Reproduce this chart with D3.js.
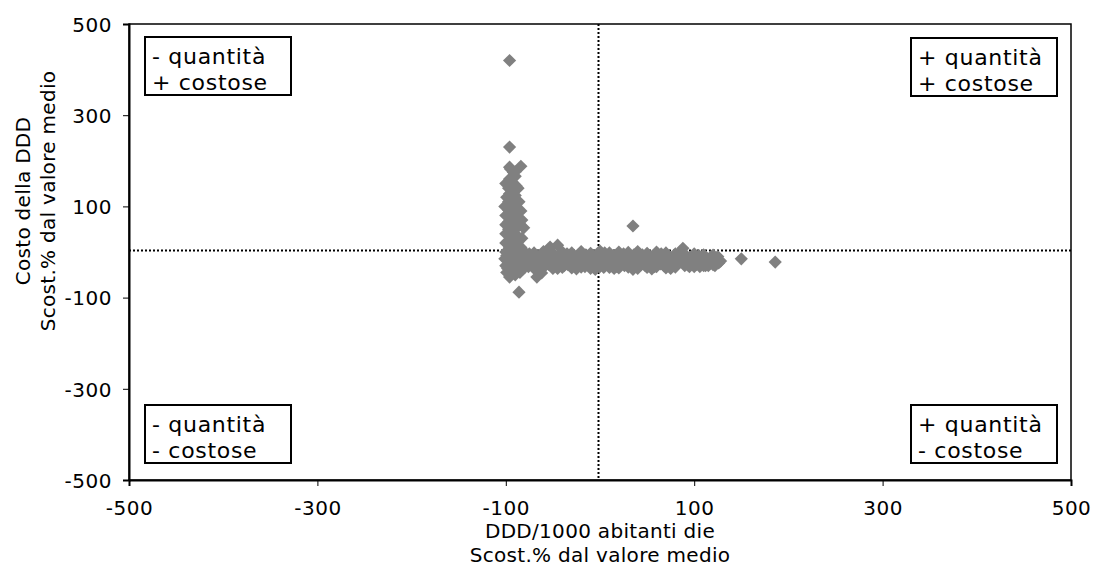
<!DOCTYPE html>
<html><head><meta charset="utf-8">
<script src="https://cdn.jsdelivr.net/npm/d3@7"></script>
<style>
body{margin:0;background:#fff;}
svg text{font-family:"DejaVu Sans",Verdana,sans-serif;fill:#000;}
</style></head>
<body><svg id="c" width="1096" height="574"></svg>
<script>
// ---- data ----
const xTicks = [-500, -300, -100, 100, 300, 500];
const yTicks = [-500, -300, -100, 100, 300, 500];
const xTitle = ["DDD/1000 abitanti die", "Scost.% dal valore medio"];
const yTitle = ["Costo della DDD", "Scost.% dal valore medio"];
const quadrantLabels = [["- quantità", "+ costose"], ["+ quantità", "+ costose"], ["- quantità", "- costose"], ["+ quantità", "- costose"]];
const refX = 0, refY = 0;
// x: DDD/1000 ab. die scost.%   y: costo DDD scost.%
const dddX = [
 -96,-96,-96,-84,-90,-95,-92,-90,-96,-94,-89,-97,-92,-96,-90,-94,-97,-91,-95,-89,-97,-93,-96,-90,-94,-97,-91,-95,-88,-97,-93,-90,-96,-92,-86,-81,-97,-94,-90,-96,-92,-98,-88,-95,-91,-97,-93,-89,-96,-92,-98,-94,-96,-88,-90,-98,-99,-93,-87,-95,
 -100,-84,-100,-83,-100,-84,-100,-85,-99,-86,-100,-87,-83,-100,-84,-100,-85,-99,-85,-101,-101,-84,
 -86,-67,-62,-96,-45,-53,35,88,150,186,
 -84,-82,-80,-78,-76,-74,-72,-70,-68,-66,-64,-62,-60,-58,-56,-54,-52,-50,-48,-46,-44,-42,-40,-38,-36,-34,-32,-30,-28,-26,-24,-22,-20,-18,-16,-14,-12,-10,-8,-6,-4,-2,0,2,4,6,8,10,12,14,16,18,20,22,24,26,28,30,32,34,36,38,40,42,44,46,48,50,52,54,56,58,60,62,64,66,68,70,72,74,76,78,80,82,84,86,90,92,94,96,98,100,102,104,106,108,110,112,114,116,118,120,122,124,126,128,
 -80,-70,-60,-50,-40,-30,-20,-10,0,10,20,30,40,50,60,70,80,90,100,110,120,-75,-55,-35,-15,5,25,45,65,85,105,125,
 -80,-70,-60,-50,-40,-30,-20,-10,0,10,20,30,40,50,60,70,80,90,100,110,120,-65,-45,-25,-5,15,35,55,75,95,115,
 -77,-63,-47,-33,-17,-3,13,27,43,57,73,87,103,117
];
const costoY = [
 420,230,186,188,176,182,175,166,160,150,145,140,135,128,124,118,110,105,100,96,92,88,82,78,72,66,62,58,54,50,46,40,36,30,26,53,22,18,14,10,6,2,-2,-6,-10,-14,-18,-22,-26,-30,-36,-42,-48,-40,-50,-20,-8,-34,-28,-4,
 80,90,40,30,0,-10,-30,60,120,110,150,140,70,60,10,20,-30,-45,-45,-15,100,-25,
 -88,-55,-46,-55,15,11,57,8,-15,-22,
 -20,-30,-10,-24,-32,-18,-28,-8,-22,-30,-16,-26,-34,-12,-24,-28,-6,-20,-30,-14,-26,-4,-22,-30,-12,-28,-18,-32,-10,-24,-30,-16,-6,-26,-32,-18,-28,-10,-22,-30,-14,-26,-4,-20,-34,-12,-28,-18,-30,-8,-24,-32,-14,-26,-20,-30,-10,-24,-16,-28,-6,-22,-32,-14,-26,-18,-30,-10,-24,-28,-14,-32,-20,-8,-26,-16,-30,-22,-12,-28,-18,-30,-10,-24,-20,-14,-26,-18,-30,-12,-22,-16,-28,-20,-32,-14,-24,-30,-18,-26,-10,-22,-30,-16,-24,-20,
 -34,-36,-32,-36,-34,-35,-33,-36,-32,-34,-35,-33,-36,-34,-32,-35,-33,-30,-32,-30,-28,-4,-6,-4,-6,-2,-4,-6,-4,-6,-8,-10,
 0,-2,1,-3,0,-2,1,-3,2,-2,0,-1,1,-3,0,-2,-4,-5,-4,-6,-7,-38,-36,-37,-38,-36,-38,-37,-36,-32,-30,
 -14,-20,-12,-18,-22,-16,-20,-12,-18,-22,-14,-18,-22,-14
];

// ---- layout ----
const m = {left: 129, right: 1071, top: 24, bottom: 480};
const svg = d3.select("#c");
const x = d3.scaleLinear().domain([-500, 500]).range([m.left, m.right]);
const y = d3.scaleLinear().domain([-500, 500]).range([m.bottom, m.top]);

// plot border
svg.append("rect").attr("x", m.left).attr("y", m.top)
  .attr("width", m.right - m.left).attr("height", m.bottom - m.top)
  .attr("fill", "#fff").attr("stroke", "#000").attr("stroke-width", 1.5);

// reference lines
svg.append("line").attr("x1", x(refX) - 1.5).attr("x2", x(refX) - 1.5).attr("y1", m.top).attr("y2", m.bottom)
  .attr("stroke", "#000").attr("stroke-width", 2).attr("stroke-dasharray", "2,2");
svg.append("line").attr("x1", m.left).attr("x2", m.right).attr("y1", y(refY) - 1.5).attr("y2", y(refY) - 1.5)
  .attr("stroke", "#000").attr("stroke-width", 2).attr("stroke-dasharray", "2,2");

// points
const pts = dddX.map((d, i) => [d, costoY[i]]);
const r = 6.6;
svg.append("g").selectAll("path").data(pts).join("path")
  .attr("d", `M0,${-r}L${r},0L0,${r}L${-r},0Z`)
  .attr("transform", d => `translate(${x(d[0])},${y(d[1])})`)
  .attr("fill", "#808080");

// axes
const fmt = d => String(d);
const xAxis = d3.axisBottom(x).tickValues(xTicks).tickSize(6).tickPadding(15).tickFormat(fmt);
const yAxis = d3.axisLeft(y).tickValues(yTicks).tickSize(6).tickPadding(11).tickFormat(fmt);
const gx = svg.append("g").attr("transform", `translate(0,${m.bottom})`).call(xAxis);
const gy = svg.append("g").attr("transform", `translate(${m.left},0)`).call(yAxis);
[gx, gy].forEach(g => {
  g.select(".domain").attr("stroke", "#000").attr("stroke-width", 2);
  g.selectAll(".tick line").attr("stroke", "#000").attr("stroke-width", 1);
  g.selectAll("text").style("font-size", "20px").style("font-family", "DejaVu Sans")
    .style("letter-spacing", "0.5px").attr("fill", "#000");
});
gy.selectAll(".tick text").attr("dy", "0.36em");

// axis titles
xTitle.forEach((t, i) => svg.append("text").attr("x", x(0)).attr("y", 538 + i * 24)
  .attr("text-anchor", "middle").style("font-size", "20px").style("letter-spacing", "0.3px").text(t));
yTitle.forEach((t, i) => svg.append("text")
  .attr("transform", `translate(${30 + i * 25},201) rotate(-90)`)
  .attr("text-anchor", "middle").style("font-size", "20px").style("letter-spacing", "0.3px").text(t));

// quadrant label boxes
const boxPos = [[145, 37], [911, 38], [145, 405], [911, 405]];
quadrantLabels.forEach((lines, i) => {
  const [bx, by] = boxPos[i];
  svg.append("rect").attr("x", bx).attr("y", by).attr("width", 146).attr("height", 58)
    .attr("fill", "#fff").attr("stroke", "#000").attr("stroke-width", 2);
  lines.forEach((t, j) => svg.append("text").attr("x", bx + 7).attr("y", by + 27 + j * 26)
    .style("font-size", "22px").style("letter-spacing", "0.7px").text(t));
});
</script></body></html>
